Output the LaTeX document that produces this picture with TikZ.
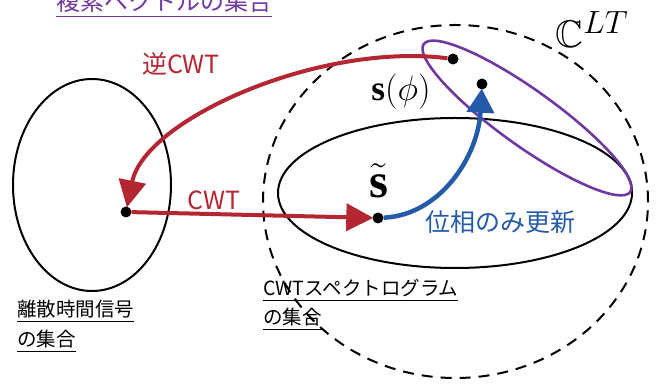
\documentclass[tikz,border=0pt]{standalone}
\usepackage{amssymb}
\usepackage{fontspec}
\setmainfont{Liberation Serif}
\newfontfamily\jp{Noto Sans CJK JP}
\usetikzlibrary{arrows.meta}
\definecolor{cred}{RGB}{180,38,50}
\definecolor{cblue}{RGB}{36,90,168}
\definecolor{cpurple}{RGB}{112,56,160}
\tikzset{
  setline/.style={draw=black, line width=2pt},
  dashline/.style={draw=black, line width=2pt, dash pattern=on 11pt off 8pt},
  purpleline/.style={draw=cpurple, line width=2.6pt},
  dotnode/.style={circle, fill=black, inner sep=0pt, minimum size=11pt},
  redarrow/.style={draw=cred, line width=4pt, -{Triangle[length=27pt,width=27pt]}, shorten >=-1pt},
  bluearrow/.style={draw=cblue, line width=4.5pt, -{Triangle[length=24pt,width=27pt]}, shorten >=-1pt},
  biglabel/.style={font=\jp\fontsize{25}{30}\selectfont, inner sep=0pt},
  smalllabel/.style={font=\jp\fontsize{19.5}{24}\selectfont, inner sep=0pt, anchor=base west},
  mathlabel/.style={font=\Huge, inner sep=0pt, transform shape},
}
\begin{document}
\begin{tikzpicture}[x=1pt,y=1pt]
\useasboundingbox (0,0) rectangle (663,387);
% sets
\draw[setline] (92,202) ellipse [x radius=79, y radius=106];
\draw[dashline] (455.5,185.5) ellipse [x radius=192.5, y radius=176.5];
\draw[setline] (455,194) ellipse [x radius=177, y radius=75];
\draw[purpleline, rotate around={-35.6:(527,269)}] (527,269) ellipse [x radius=127, y radius=28];
% points
\node[dotnode] (L) at (126,175) {};
\node[dotnode] (S) at (378,169) {};
\node[dotnode] (P) at (453,328) {};
\node[dotnode] (Q) at (482,303) {};
% arrows
\draw[redarrow] (L) -- (S);
\draw[redarrow] (P) .. controls (320,345) and (145,268) .. (L);
\draw[bluearrow] (S) .. controls (440,172) and (478,230) .. (Q);
% labels
\node[biglabel, text=cred] (linv) at (181,323) {逆CWT};
\node[biglabel, text=cred] (lcwt) at (214,187) {CWT};
\node[biglabel, text=cblue] (lphase) at (500,165) {位相のみ更新};
\node[mathlabel, scale=1.42] (ls) at (401,295) {$\mathbf{s}(\phi)$};
\node[mathlabel, scale=1.95] (lst) at (379,206) {$\tilde{\mathbf{s}}$};
\node[mathlabel, scale=1.55] (lc) at (592,357) {$\mathbb{C}^{LT}$};
\node[font=\jp\fontsize{24}{28}\selectfont, inner sep=0pt, anchor=base, text=cpurple] (ltop) at (164,376) {\underline{複素ベクトルの集合}};
\node[smalllabel] (ld1) at (17,70) {\underline{離散時間信号}};
\node[smalllabel] (ld2) at (17,40) {\underline{の集合}};
\node[smalllabel] (lw1) at (263,91) {\underline{CWTスペクトログラム}};
\node[smalllabel] (lw2) at (263,62) {\underline{の集合}};
\end{tikzpicture}
\end{document}
